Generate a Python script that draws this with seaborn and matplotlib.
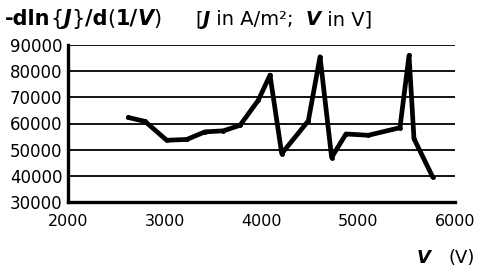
import matplotlib
matplotlib.use("Agg")
import matplotlib.pyplot as plt
import seaborn as sns
import pandas as pd

V = [2623, 2796, 3020, 3227, 3416, 3605, 3778, 3967, 4088, 4209, 4484, 4605,
     4725, 4873, 5104, 5431, 5525, 5576, 5770]
S = [62300, 60800, 53600, 53900, 56800, 57200, 59300, 68900, 78500, 48500,
     61000, 85500, 47000, 56000, 55500, 58400, 86000, 54200, 39500]
xticks = [2000, 3000, 4000, 5000, 6000]
yticks = [30000, 40000, 50000, 60000, 70000, 80000, 90000]

sns.set_style("white")
plt.rcParams['font.family'] = ['DejaVu Sans']
plt.rcParams['text.color'] = 'black'
plt.rcParams['xtick.color'] = 'black'
plt.rcParams['ytick.color'] = 'black'

df = pd.DataFrame({"V": V, "S": S})
fig = plt.figure(figsize=(4.79, 2.71), dpi=100)
ax = fig.add_axes([68/479, 1 - 202/271, (455-68)/479, (202-45)/271])
sns.lineplot(data=df, x="V", y="S", ax=ax, color="black", linewidth=3.4,
             marker="o", markersize=3.5, markeredgewidth=0, zorder=3)
ax.set_xlim(2000, 6000)
ax.set_ylim(30000, 90000)
ax.set_xticks(xticks)
ax.set_yticks(yticks)
ax.set_xticklabels([str(t) for t in xticks])
ax.set_yticklabels([str(t) for t in yticks])
ax.yaxis.grid(True, color="black", linewidth=1.3)
ax.set_axisbelow(True)
for s in ["top", "right"]:
    ax.spines[s].set_visible(False)
for s in ["left", "bottom"]:
    ax.spines[s].set_linewidth(2.4)
    ax.spines[s].set_color("black")
ax.tick_params(axis="both", direction="out", length=3, width=2.2, colors="black",
               labelcolor="black", pad=1)
ax.tick_params(axis="y", labelsize=12)
ax.tick_params(axis="x", labelsize=11.5, pad=6)
ax.set_xlabel("")
ax.set_ylabel("")

renderer = fig.canvas.get_renderer()


def run_text(x_px, y_px, pieces, fs):
    x = x_px
    for txt, w, st in pieces:
        t = fig.text(x / 479, 1 - y_px / 271, txt, fontsize=fs, fontweight=w,
                     fontstyle=st, ha="left", va="baseline", color="black")
        bb = t.get_window_extent(renderer=renderer)
        x += bb.width
    return x


g1 = [("-dln", "bold", "normal"), ("{", "normal", "normal"), ("J", "bold", "italic"),
      ("}", "normal", "normal"), ("/d", "bold", "normal"), ("(", "normal", "normal"),
      ("1/", "bold", "normal"), ("V", "bold", "italic"), (")", "normal", "normal")]
run_text(5, 25, g1, 15)
g2 = [("[", "normal", "normal"), ("J", "bold", "italic"), (" in A/m\u00b2;  ", "normal", "normal"),
      ("V", "bold", "italic"), (" in V]", "normal", "normal")]
run_text(195, 25, g2, 14)

# x label
run_text(417, 263, [("V", "bold", "italic")], 13)
run_text(448, 263, [("(V)", "normal", "normal")], 13)

fig.savefig("out.png", dpi=100)
